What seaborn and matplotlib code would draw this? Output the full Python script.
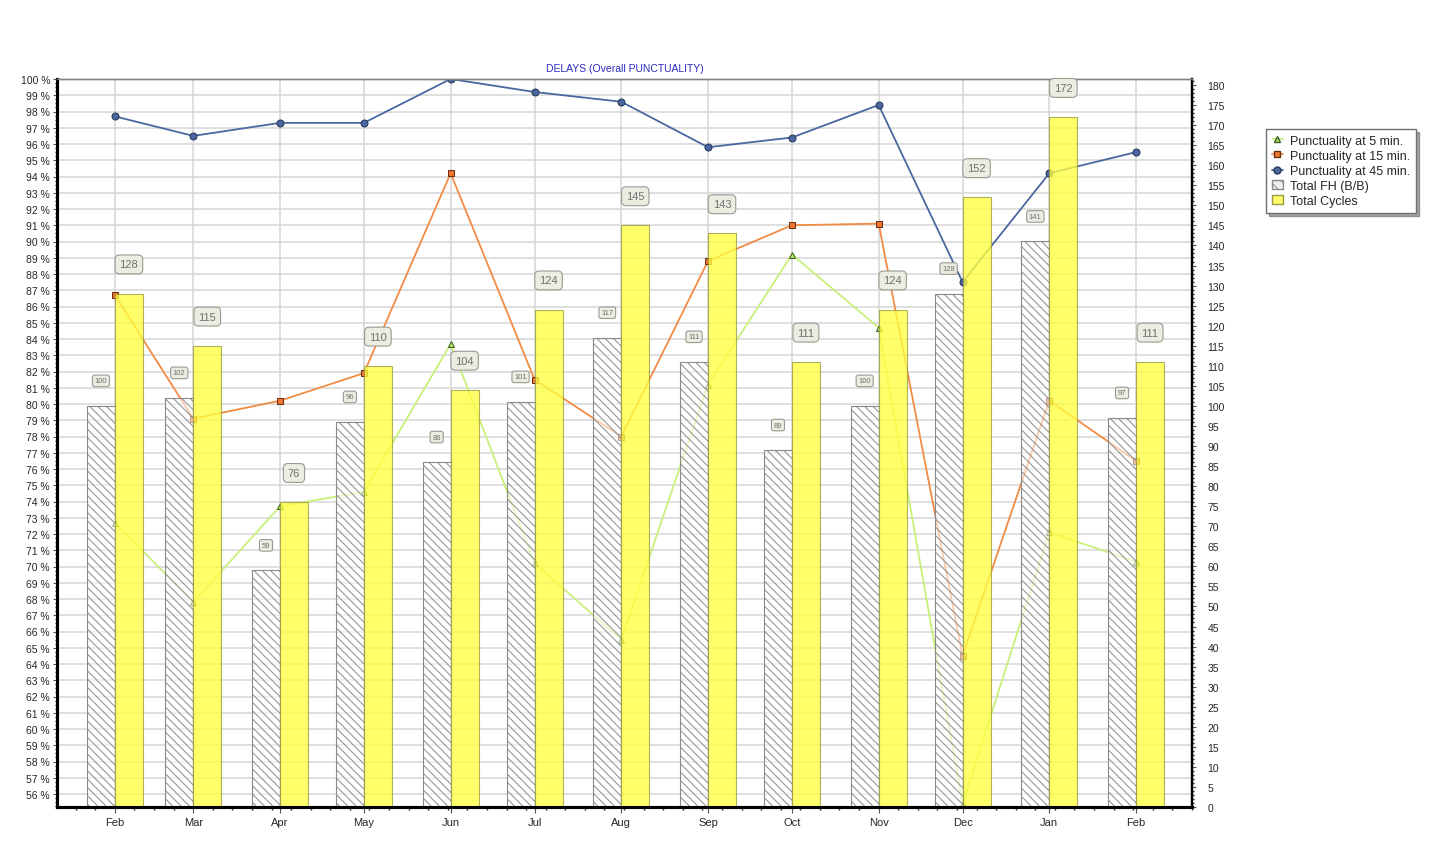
import pandas as pd
import seaborn as sns
import matplotlib.pyplot as plt
import matplotlib.ticker as mticker
from matplotlib.lines import Line2D
from matplotlib.patches import Patch

sns.set_theme(style="white")
plt.rcParams['font.family'] = ['Liberation Sans', 'DejaVu Sans']
plt.rcParams['hatch.color'] = '#6a6a6a'
plt.rcParams['hatch.linewidth'] = 0.7

# data
months = ["Feb", "Mar", "Apr", "May", "Jun", "Jul", "Aug", "Sep", "Oct", "Nov", "Dec", "Jan", "Feb"]
dates = pd.date_range("2009-02-01", periods=13, freq="MS")
punct_5 = [72.7, 67.8, 73.7, 74.6, 83.7, 70.2, 65.5, 81.2, 89.2, 84.7, 55.4, 72.1, 70.3]
punct_15 = [86.7, 79.1, 80.2, 81.9, 94.2, 81.5, 78.0, 88.8, 91.0, 91.1, 64.5, 80.2, 76.5]
punct_45 = [97.7, 96.5, 97.3, 97.3, 100.0, 99.2, 98.6, 95.8, 96.4, 98.4, 87.5, 94.2, 95.5]
total_fh = [100, 102, 59, 96, 86, 101, 117, 111, 89, 100, 128, 141, 97]
total_cycles = [128, 115, 76, 110, 104, 124, 145, 143, 111, 124, 152, 172, 111]

days = (dates - dates[0]).days.values
df = pd.DataFrame({"day": days, "p5": punct_5, "p15": punct_15, "p45": punct_45,
                   "fh": total_fh, "cycles": total_cycles})

fig = plt.figure(figsize=(14.35, 8.45), dpi=100)
ax = fig.add_axes([57 / 1435, 1 - 808 / 845, (1192 - 57) / 1435, (808 - 80) / 845])
ax2 = ax.twinx()

# punctuality lines on the left axis
sns.lineplot(data=df, x="day", y="p45", ax=ax, color="#4a67a0", linewidth=1.3,
             marker="o", markersize=5, markerfacecolor="#4a67a0", markeredgecolor="#28385c")
sns.lineplot(data=df, x="day", y="p15", ax=ax, color="#f28c45", linewidth=1.3,
             marker="s", markersize=5, markerfacecolor="#f07830", markeredgecolor="#6a3010")
sns.lineplot(data=df, x="day", y="p5", ax=ax, color="#c8f07a", linewidth=1.3,
             marker="^", markersize=5, markerfacecolor="#b8e870", markeredgecolor="#3a6020")

# bars on the right axis
ax2.bar(df["day"], df["fh"], width=-10, align="edge", color=(1, 1, 1, 0.55),
        edgecolor="#8a8a8a", hatch="\\\\\\\\", linewidth=0.8)
ax2.bar(df["day"], df["cycles"], width=10, align="edge", color="#ffff40",
        edgecolor="#9a9a40", linewidth=0.8, alpha=0.78)

for d, v in zip(df["day"], df["fh"]):
    ax2.annotate(str(v), xy=(d - 5, v), xytext=(0, 18), textcoords="offset points",
                 ha="center", va="center", fontsize=5.5, color="#707070",
                 bbox=dict(boxstyle="round,pad=0.3", fc="#ecece2", ec="#9a9a90", lw=0.8))
for d, v in zip(df["day"], df["cycles"]):
    ax2.annotate(str(v), xy=(d + 5, v), xytext=(0, 21), textcoords="offset points",
                 ha="center", va="center", fontsize=8, color="#707070",
                 bbox=dict(boxstyle="round,pad=0.4", fc="#ecece2", ec="#9a9a90", lw=0.8))

# axes, ticks, grid
ax.set_xlim(-20.7, 385)
ax.set_ylim(55.2, 100)
ax2.set_ylim(0, 181.5)
ax.set_xticks(days)
ax.set_xticklabels(months, fontsize=8)
ax.xaxis.set_minor_locator(mticker.MultipleLocator(7))
ax.set_yticks(range(56, 101))
ax.yaxis.set_major_formatter(mticker.FuncFormatter(lambda v, p: f"{int(v)} %"))
ax.yaxis.set_minor_locator(mticker.MultipleLocator(0.25))
ax2.set_yticks(range(0, 181, 5))
ax2.yaxis.set_minor_locator(mticker.MultipleLocator(1))
ax.tick_params(axis="y", labelsize=7.5, length=3, width=0.8, color="#555555", pad=2, left=True)
ax.tick_params(axis="y", which="minor", length=1.5, left=True)
ax.tick_params(axis="x", length=4, width=0.8, color="#555555", pad=3, bottom=True)
ax.tick_params(axis="x", which="minor", length=2.5, bottom=True)
ax2.tick_params(axis="y", labelsize=7.5, length=3, width=0.8, color="#555555", pad=8, right=True)
ax2.tick_params(axis="y", which="minor", length=1.5, right=True)
ax.set_xlabel("")
ax.set_ylabel("")
ax2.set_ylabel("")
ax.grid(axis="both", which="major", color="#d6d6d6", linewidth=1.1)
ax.set_axisbelow(True)

for a in (ax, ax2):
    a.spines["left"].set_color("black")
    a.spines["left"].set_linewidth(2.2)
    a.spines["bottom"].set_color("black")
    a.spines["bottom"].set_linewidth(2.2)
    a.spines["right"].set_color("black")
    a.spines["right"].set_linewidth(1.6)
    a.spines["top"].set_color("#808080")
    a.spines["top"].set_linewidth(1)

ax.set_title("DELAYS (Overall PUNCTUALITY)", fontsize=7.5, color="#2b2bc0", pad=6)

handles = [
    Line2D([], [], color="#c8f07a", marker="^", markersize=5, markerfacecolor="#b8e870",
           markeredgecolor="#3a6020", linewidth=1.3),
    Line2D([], [], color="#f28c45", marker="s", markersize=5, markerfacecolor="#f07830",
           markeredgecolor="#6a3010", linewidth=1.3),
    Line2D([], [], color="#4a67a0", marker="o", markersize=5, markerfacecolor="#4a67a0",
           markeredgecolor="#28385c", linewidth=1.3),
    Patch(facecolor="#eeeeee", edgecolor="#8a8a8a", hatch="\\\\\\"),
    Patch(facecolor="#ffff70", edgecolor="#9a9a40"),
]
labels = ["Punctuality at 5 min.", "Punctuality at 15 min.", "Punctuality at 45 min.",
          "Total FH (B/B)", "Total Cycles"]
fig.legend(handles, labels, loc="upper left", bbox_to_anchor=(1266 / 1435, 1 - 130 / 845),
           fontsize=9, frameon=True, fancybox=False, shadow=True, edgecolor="#707070",
           handlelength=0.9, handletextpad=0.6, labelspacing=0.25, borderpad=0.45,
           borderaxespad=0)

fig.savefig("out.png", dpi=100)
